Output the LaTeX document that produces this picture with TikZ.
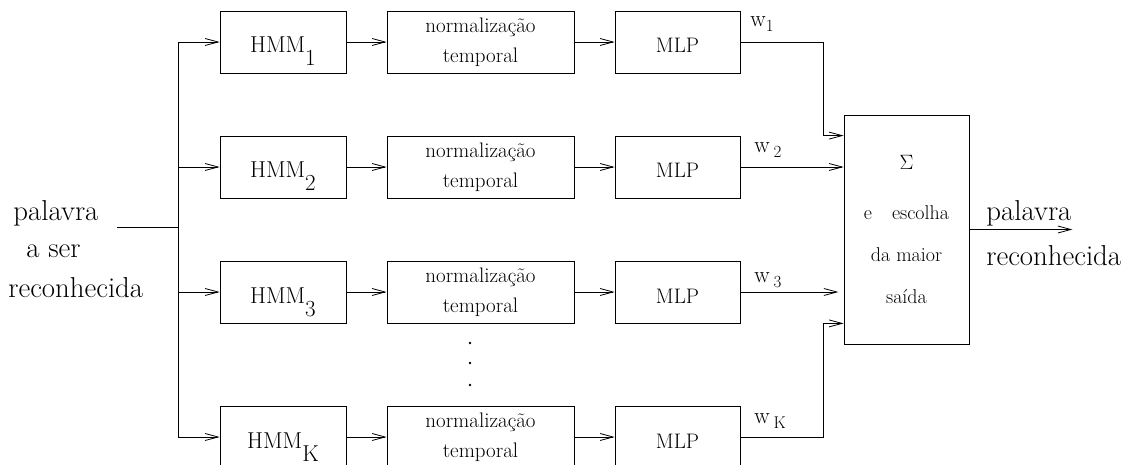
\documentclass[tikz,border=0pt]{standalone}
\usepackage{fontspec}
\usetikzlibrary{arrows.meta,positioning}

\newcommand{\lowidx}[1]{\raisebox{-13pt}{#1}}
\newcommand{\lowsub}[1]{\raisebox{-5pt}{\fontsize{17}{17}\selectfont #1}}

\tikzset{
	blk/.style={draw, inner sep=0pt, minimum height=62pt, font=\fontsize{21}{30}\selectfont},
	hmmbox/.style={blk, minimum width=126pt, text height=22pt, text depth=0pt, font=\fontsize{23}{30}\selectfont},
	normbox/.style={blk, minimum width=187pt, align=center},
	mlpbox/.style={blk, minimum width=125pt, text height=22pt, text depth=0pt},
	sumbox/.style={draw, inner sep=0pt, minimum width=125pt, minimum height=229pt, align=center, font=\fontsize{20}{42}\selectfont},
	biglab/.style={anchor=base west, inner sep=0pt, font=\fontsize{28.8}{30}\selectfont},
	wlab/.style={anchor=base west, inner sep=0pt, font=\fontsize{23}{24}\selectfont},
	arr/.style={-{Straight Barb[length=13pt,width=7pt]}}
}

\begin{document}
\begin{tikzpicture}[x=1pt, y=1pt, line width=0.8pt]
			\useasboundingbox (0,0) rectangle (1121,-465);
			% Columns
			\def\hmmx{283}
			\def\normx{480.5}
			\def\mlpx{677.5}

			% Input
			\node[biglab] (ina) at (13,-220) {palavra};
			\node[biglab] (inb) at (26,-257) {a ser};
			\node[biglab] (inc) at (8,-297) {reconhecida};
			\coordinate (in) at (117,-227);
			\coordinate (split) at (178,-227);
			\draw (in) -- (split);

			% Rows
			\foreach \r/\y in {1/-42, 2/-167, 3/-292, K/-437} {
				\node[hmmbox] (hmm\r) at (\hmmx,\y) {HMM\lowidx{\r}};
				\node[normbox] (norm\r) at (\normx,\y) {normalização\\temporal};
				\node[mlpbox] (mlp\r) at (\mlpx,\y) {MLP};
				\draw[arr] (split) |- (hmm\r);
				\draw[arr] (hmm\r) -- (norm\r);
				\draw[arr] (norm\r) -- (mlp\r);
			}
			\foreach \y in {-343, -363, -385}
				\fill (470,\y) circle (1.4pt);

			% Sum and choice
			\node[sumbox] (sum) at (906.5,-229.5) {{\fontsize{22}{22}\selectfont$\Sigma$}\\[8pt]e\quad escolha\\da maior\\saída};
			\coordinate (s1) at ([yshift=-21pt]sum.north west);
			\coordinate (s4) at ([yshift=21pt]sum.south west);
			\draw[arr] (mlp1.east) -- ++(83,0) |- (s1);
			\draw[arr] (mlp2.east) -- (mlp2.east -| sum.west);
			\draw[arr] (mlp3.east) -- ++(98,0);
			\draw[arr] (mlpK.east) -- ++(83,0) |- (s4);
			\node[wlab] (w1) at (750,-27) {w\lowsub{1}};
			\node[wlab] (w2) at (754,-153) {w\,\lowsub{2}};
			\node[wlab] (w3) at (754,-282) {w\,\lowsub{3}};
			\node[wlab] (wK) at (754,-423) {w\,\lowsub{K}};

			% Output
			\coordinate (out) at ([xshift=103pt]sum.east);
			\draw[arr] (sum.east) -- (out);
			\node[biglab] (outa) at (986,-220) {palavra};
			\node[biglab] (outb) at (986,-265) {reconhecida};
\end{tikzpicture}
\end{document}
